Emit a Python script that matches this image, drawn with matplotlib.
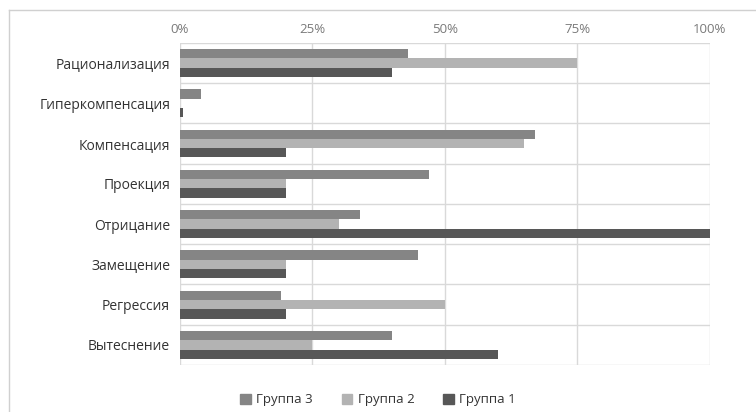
import matplotlib.pyplot as plt
import numpy as np
from matplotlib.lines import Line2D

plt.rcParams['font.family'] = ['Open Sans', 'DejaVu Sans']

# категории (сверху вниз)
categories = ['Рационализация', 'Гиперкомпенсация', 'Компенсация', 'Проекция',
              'Отрицание', 'Замещение', 'Регрессия', 'Вытеснение']
group3 = [43, 4, 67, 47, 34, 45, 19, 40]
group2 = [75, 0, 65, 20, 30, 20, 50, 25]
group1 = [40, 0.5, 20, 20, 100, 20, 20, 60]
series_names = ['Группа 3', 'Группа 2', 'Группа 1']
colors = ['#858585', '#b3b3b3', '#575757']

fig = plt.figure(figsize=(7.56, 4.12), dpi=100)
ax = fig.add_axes([0.238, 0.114, 0.701, 0.782])

y = np.arange(len(categories))
h = 0.23
for k, vals in enumerate([group3, group2, group1]):
    ax.barh(y + (k - 1) * h, vals, height=h, color=colors[k], zorder=3)

ax.set_xlim(0, 100)
ax.set_ylim(len(categories) - 0.5, -0.5)
ax.set_xticks([0, 25, 50, 75, 100])
ax.set_xticklabels(['0%', '25%', '50%', '75%', '100%'], fontsize=9.5, color='#7a7a7a')
ax.xaxis.tick_top()
ax.set_yticks(y)
ax.set_yticklabels(categories, fontsize=10, color='#333333')
ax.tick_params(length=0, pad=7)
ax.tick_params(axis='x', pad=5)

# сетка
for xv in [0, 25, 50, 75, 100]:
    ax.axvline(xv, color='#d9d9d9', lw=1, zorder=1)
for yv in np.arange(-0.5, len(categories)):
    ax.axhline(yv, color='#d9d9d9', lw=1, zorder=1)
for s in ax.spines.values():
    s.set_visible(False)

# рамка диаграммы
fig.add_artist(Line2D([0.012, 0.012], [0, 0.975], color='#d0d0d0', lw=1))
fig.add_artist(Line2D([0.012, 1], [0.975, 0.975], color='#d0d0d0', lw=1))

handles = [plt.Rectangle((0, 0), 1, 1, color=c) for c in colors]
fig.legend(handles, series_names, loc='lower center', bbox_to_anchor=(0.5, -0.015),
           ncol=3, frameon=False, fontsize=9.5, handlelength=0.8, handleheight=0.8,
           columnspacing=2.2, handletextpad=0.4, labelcolor='#333333')

fig.savefig('out.png', dpi=100)
